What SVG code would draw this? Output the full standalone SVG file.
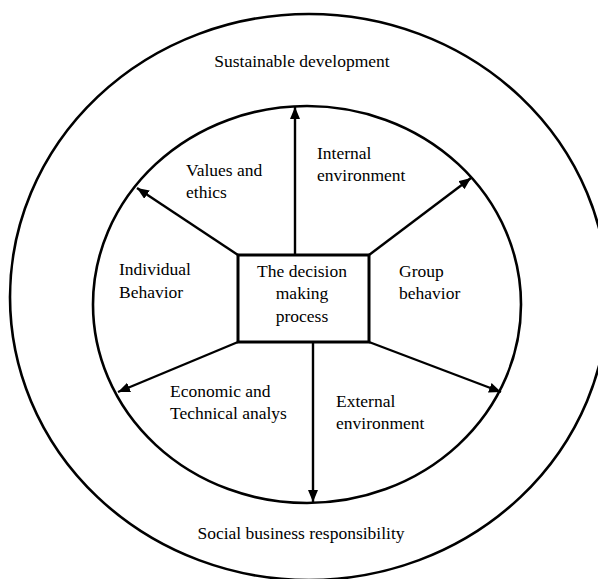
<svg xmlns="http://www.w3.org/2000/svg" width="598" height="579" viewBox="0 0 598 579">
<style>
.ring{fill:none;stroke:#000;stroke-width:2.6}
.conn{fill:none;stroke:#000;stroke-width:2.4}
.box{fill:#fff;stroke:#000;stroke-width:3}
text{font-family:"Liberation Serif","Times New Roman",serif;font-size:17.5px;fill:#000}
</style>
<defs>
<marker id="ah" markerUnits="userSpaceOnUse" markerWidth="14" markerHeight="12" refX="12" refY="5" orient="auto">
<path d="M0,0 L12,5 L0,10 Z" fill="#000"/>
</marker>
</defs>
<rect width="598" height="579" fill="#fff"/>
<g id="outer-ring">
<ellipse class="ring" cx="309" cy="297" rx="299" ry="283"/>
<text x="302" y="67" text-anchor="middle">Sustainable development</text>
<text x="301" y="539" text-anchor="middle">Social business responsibility</text>
</g>
<g id="inner-ring">
<ellipse class="ring" cx="307" cy="304.5" rx="214" ry="198.5"/>
</g>
<g id="connectors">
<line class="conn" x1="295" y1="254" x2="295" y2="107" marker-end="url(#ah)"/>
<line class="conn" x1="238" y1="255" x2="137" y2="188" marker-end="url(#ah)"/>
<line class="conn" x1="369" y1="255" x2="471" y2="178" marker-end="url(#ah)"/>
<line class="conn" x1="238" y1="342" x2="118" y2="392" marker-end="url(#ah)"/>
<line class="conn" x1="313" y1="343" x2="313" y2="502" marker-end="url(#ah)"/>
<line class="conn" x1="369" y1="342" x2="501" y2="392" marker-end="url(#ah)"/>
</g>
<g id="decision-process">
<rect class="box" x="238" y="255" width="131" height="87"/>
<text x="302" y="277" text-anchor="middle">The decision</text>
<text x="302" y="299" text-anchor="middle">making</text>
<text x="302" y="322" text-anchor="middle">process</text>
</g>
<g id="values-ethics">
<text x="186" y="176">Values and</text>
<text x="186" y="198">ethics</text>
</g>
<g id="internal-environment">
<text x="317" y="159">Internal</text>
<text x="317" y="181">environment</text>
</g>
<g id="individual-behavior">
<text x="119" y="275">Individual</text>
<text x="119" y="298">Behavior</text>
</g>
<g id="group-behavior">
<text x="399" y="277">Group</text>
<text x="399" y="299">behavior</text>
</g>
<g id="economic-technical">
<text x="170" y="397">Economic and</text>
<text x="170" y="419">Technical analys</text>
</g>
<g id="external-environment">
<text x="336" y="407">External</text>
<text x="336" y="429">environment</text>
</g>
</svg>
